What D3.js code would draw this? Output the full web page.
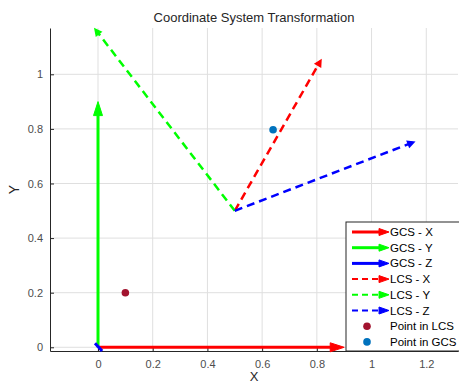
<!DOCTYPE html>
<html>
<head>
<meta charset="utf-8">
<script src="https://cdn.jsdelivr.net/npm/d3@7"></script>
<style>
  body { margin: 0; background: #fff; }
  svg { font-family: "Liberation Sans", Arial, sans-serif; }
</style>
</head>
<body>
<div id="chart"></div>
<script>
// quiver vectors as drawn (start point + components)
const vecNames = ['GCS - X', 'GCS - Y', 'GCS - Z', 'LCS - X', 'LCS - Y', 'LCS - Z'];
const vecX0 = [0, 0, -0.011, 0.5, 0.5, 0.5];
const vecY0 = [0, 0, 0.015, 0.5, 0.5, 0.5];
const vecU = [0.9, 0, 0.026, 0.315, -0.511, 0.655];
const vecV = [0, 0.9, -0.029, 0.552, 0.666, 0.252];
const vecColors = ['#ff0000', '#00ff00', '#0000ff', '#ff0000', '#00ff00', '#0000ff'];
const vecDashed = [false, false, false, true, true, true];

const pointNames = ['Point in LCS', 'Point in GCS'];
const pointX = [0.1, 0.64];
const pointY = [0.2, 0.797];
const pointColors = ['#a2142f', '#0072bd'];

const xTicks = [0, 0.2, 0.4, 0.6, 0.8, 1, 1.2];
const yTicks = [0, 0.2, 0.4, 0.6, 0.8, 1];

const width = 459, height = 385;
const pLeft = 50, pRight = 458, pTop = 28, pBottom = 351;

const svg = d3.select('#chart').append('svg')
  .attr('width', width).attr('height', height);

const x = d3.scaleLinear().domain([-0.1755, 1.316]).range([pLeft, pRight]);
const y = d3.scaleLinear().domain([-0.0136, 1.1696]).range([pBottom, pTop]);

// grid
svg.append('g').selectAll('line').data(xTicks).enter().append('line')
  .attr('x1', d => x(d)).attr('x2', d => x(d))
  .attr('y1', pTop).attr('y2', pBottom)
  .attr('stroke', '#dfdfdf').attr('stroke-width', 1);
svg.append('g').selectAll('line').data(yTicks).enter().append('line')
  .attr('x1', pLeft).attr('x2', pRight)
  .attr('y1', d => y(d)).attr('y2', d => y(d))
  .attr('stroke', '#dfdfdf').attr('stroke-width', 1);

// axes
const xAxis = d3.axisBottom(x).tickValues(xTicks).tickFormat(d3.format('')).tickSizeInner(-4).tickSizeOuter(0).tickPadding(9);
const yAxis = d3.axisLeft(y).tickValues(yTicks).tickFormat(d3.format('')).tickSizeInner(-4).tickSizeOuter(0).tickPadding(7);

const gx = svg.append('g').attr('transform', `translate(0,${pBottom})`).call(xAxis);
const gy = svg.append('g').attr('transform', `translate(${pLeft},0)`).call(yAxis);
[gx, gy].forEach(g => {
  g.select('.domain').attr('stroke', '#262626').attr('stroke-width', 1);
  g.selectAll('.tick line').attr('stroke', '#262626');
  g.selectAll('.tick text').attr('fill', '#4d4d4d').style('font-size', '11px');
});

const plot = svg.append('g');

function head(g, tx, ty, ang, len, hw, color, lw) {
  const bx = tx - len * Math.cos(ang), by = ty - len * Math.sin(ang);
  const nx = -Math.sin(ang) * hw, ny = Math.cos(ang) * hw;
  g.append('path')
    .attr('d', `M${bx + nx},${by + ny}L${tx},${ty}L${bx - nx},${by - ny}Z`)
    .attr('fill', color).attr('stroke', color).attr('stroke-width', lw)
    .attr('stroke-linejoin', 'miter');
}

vecNames.forEach((name, i) => {
  const x1 = x(vecX0[i]), y1 = y(vecY0[i]);
  const x2 = x(vecX0[i] + vecU[i]), y2 = y(vecY0[i] + vecV[i]);
  const ang = Math.atan2(y2 - y1, x2 - x1);
  const lw = vecDashed[i] ? 2.5 : 3;
  const hl = vecDashed[i] ? 6 : 14;
  const plen = Math.hypot(x2 - x1, y2 - y1);
  const showHead = plen > 30;
  const ex = showHead ? x2 - (hl - 2) * Math.cos(ang) : x2;
  const ey = showHead ? y2 - (hl - 2) * Math.sin(ang) : y2;
  plot.append('line')
    .attr('x1', x1).attr('y1', y1).attr('x2', ex).attr('y2', ey)
    .attr('stroke', vecColors[i]).attr('stroke-width', lw)
    .attr('stroke-dasharray', vecDashed[i] ? '8,5' : null);
  if (showHead) head(plot, x2, y2, ang, hl, vecDashed[i] ? 3 : 4.5, vecColors[i], vecDashed[i] ? 1.5 : 1);
});

pointNames.forEach((name, i) => {
  plot.append('circle')
    .attr('cx', x(pointX[i])).attr('cy', y(pointY[i])).attr('r', 3.8)
    .attr('fill', pointColors[i]);
});

// title and labels
svg.append('text').attr('x', (pLeft + pRight) / 2).attr('y', 22)
  .attr('text-anchor', 'middle').style('font-size', '13px').attr('fill', '#262626')
  .text('Coordinate System Transformation');
svg.append('text').attr('x', (pLeft + pRight) / 2).attr('y', 381)
  .attr('text-anchor', 'middle').style('font-size', '13px').attr('fill', '#262626')
  .text('X');
svg.append('text').attr('transform', `translate(19,${(pTop + pBottom) / 2}) rotate(-90)`)
  .attr('text-anchor', 'middle').style('font-size', '14px').attr('fill', '#262626')
  .text('Y');

// legend
const lg = svg.append('g');
const lgX = 346, lgY = 222, lgW = 114, lgH = 129, rowH = 15.7;
lg.append('rect').attr('x', lgX).attr('y', lgY).attr('width', lgW).attr('height', lgH)
  .attr('fill', '#fff').attr('stroke', '#262626').attr('stroke-width', 1);
const legendItems = vecNames.map((n, i) => ({ name: n, type: 'vec', i }))
  .concat(pointNames.map((n, i) => ({ name: n, type: 'pt', i })));
legendItems.forEach((d, k) => {
  const cy = lgY + 10 + k * rowH;
  if (d.type === 'vec') {
    const lw = vecDashed[d.i] ? 2 : 3;
    lg.append('line').attr('x1', 352).attr('x2', 380).attr('y1', cy).attr('y2', cy)
      .attr('stroke', vecColors[d.i]).attr('stroke-width', lw)
      .attr('stroke-dasharray', vecDashed[d.i] ? '6,4' : null);
    head(lg, 389, cy, 0, 10, 3.5, vecColors[d.i], 1);
    lg.append('text').attr('x', 390).attr('y', cy + 4).style('font-size', '11.5px')
      .attr('fill', '#000').text(d.name);
  } else {
    lg.append('circle').attr('cx', 367).attr('cy', cy).attr('r', 3.8).attr('fill', pointColors[d.i]);
    lg.append('text').attr('x', 390).attr('y', cy + 4).style('font-size', '11.5px')
      .attr('fill', '#000').text(d.name);
  }
});
</script>
</body>
</html>
